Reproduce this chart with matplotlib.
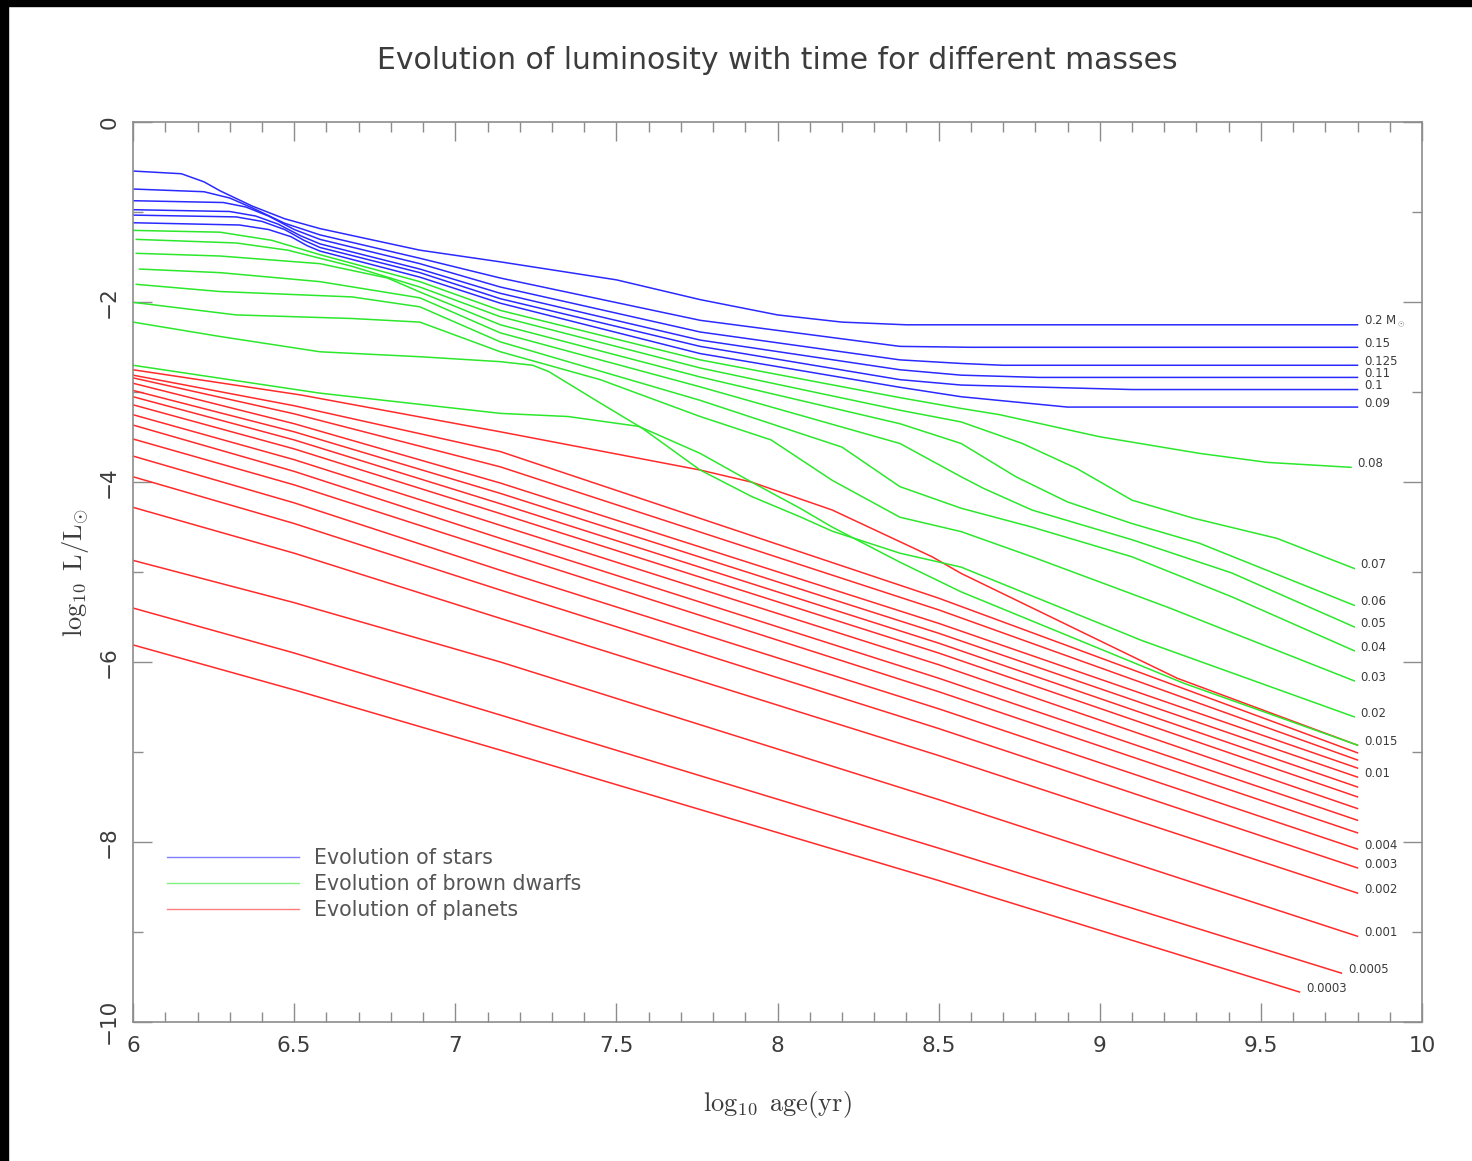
import numpy as np
import matplotlib.pyplot as plt
from matplotlib.patches import Rectangle
from matplotlib.ticker import MultipleLocator
from matplotlib.lines import Line2D

plt.rcParams['mathtext.fontset'] = 'cm'

# ---- data: log10 age (yr) vs log10 L/Lsun ----
# stars (blue)
star_masses = ['0.2 M$_\\odot$', '0.15', '0.125', '0.11', '0.1', '0.09']
star_age = [
    [6.0, 6.15, 6.22, 6.27, 6.37, 6.47, 6.58, 6.89, 7.14, 7.5, 7.76, 8.0, 8.2, 8.4, 8.57, 9.8],
    [6.0, 6.22, 6.3, 6.37, 6.47, 6.58, 6.89, 7.14, 7.76, 8.38, 8.6, 9.8],
    [6.0, 6.28, 6.35, 6.42, 6.5, 6.58, 6.89, 7.14, 7.76, 8.38, 8.57, 8.7, 9.8],
    [6.0, 6.3, 6.38, 6.45, 6.52, 6.58, 6.89, 7.14, 7.76, 8.38, 8.57, 8.81, 9.8],
    [6.0, 6.32, 6.4, 6.47, 6.53, 6.58, 6.89, 7.14, 7.76, 8.38, 8.57, 9.1, 9.8],
    [6.0, 6.33, 6.42, 6.49, 6.54, 6.58, 6.89, 7.14, 7.76, 8.38, 8.57, 8.9, 9.8],
]
star_lum = [
    [-0.54, -0.57, -0.66, -0.76, -0.93, -1.07, -1.18, -1.42, -1.55, -1.75, -1.97, -2.14, -2.22, -2.25, -2.25, -2.25],
    [-0.74, -0.77, -0.84, -0.95, -1.12, -1.25, -1.51, -1.73, -2.20, -2.49, -2.50, -2.50],
    [-0.87, -0.89, -0.94, -1.04, -1.19, -1.30, -1.57, -1.83, -2.33, -2.64, -2.68, -2.70, -2.70],
    [-0.97, -0.99, -1.04, -1.13, -1.26, -1.35, -1.63, -1.90, -2.42, -2.75, -2.81, -2.835, -2.835],
    [-1.03, -1.05, -1.10, -1.19, -1.31, -1.39, -1.67, -1.96, -2.49, -2.86, -2.92, -2.97, -2.97],
    [-1.115, -1.14, -1.19, -1.27, -1.37, -1.43, -1.72, -2.01, -2.57, -2.945, -3.05, -3.165, -3.165],
]

# brown dwarfs (green)
bd_masses = ['0.08', '0.07', '0.06', '0.05', '0.04', '0.03', '0.02', '0.015']
bd_age = [
    [6.0, 6.27, 6.43, 6.58, 6.89, 7.14, 7.76, 8.38, 8.57, 8.69, 9.0, 9.31, 9.52, 9.78],
    [6.01, 6.32, 6.48, 6.68, 6.89, 7.14, 7.76, 8.38, 8.57, 8.76, 8.93, 9.10, 9.29, 9.55, 9.79],
    [6.01, 6.27, 6.58, 6.79, 6.89, 7.14, 7.76, 8.38, 8.57, 8.74, 8.90, 9.10, 9.31, 9.79],
    [6.02, 6.27, 6.58, 6.89, 7.14, 7.76, 8.38, 8.57, 8.64, 8.79, 9.10, 9.41, 9.79],
    [6.01, 6.27, 6.68, 6.89, 7.14, 7.76, 8.20, 8.38, 8.57, 8.79, 9.10, 9.41, 9.79],
    [6.0, 6.32, 6.68, 6.89, 7.14, 7.45, 7.76, 7.98, 8.17, 8.38, 8.57, 8.79, 9.21, 9.79],
    [6.0, 6.27, 6.58, 6.89, 7.14, 7.24, 7.29, 7.45, 7.58, 7.76, 7.92, 8.07, 8.17, 8.38, 8.57, 9.13, 9.79],
    [6.0, 6.58, 7.14, 7.35, 7.57, 7.76, 7.92, 8.07, 8.17, 8.38, 8.57, 9.26, 9.80],
]
bd_lum = [
    [-1.20, -1.22, -1.31, -1.47, -1.77, -2.09, -2.64, -3.06, -3.18, -3.25, -3.495, -3.68, -3.78, -3.835],
    [-1.30, -1.34, -1.42, -1.60, -1.83, -2.16, -2.73, -3.20, -3.33, -3.57, -3.85, -4.20, -4.40, -4.625, -4.96],
    [-1.455, -1.485, -1.57, -1.73, -1.885, -2.25, -2.83, -3.35, -3.57, -3.94, -4.22, -4.46, -4.68, -5.37],
    [-1.63, -1.67, -1.77, -1.95, -2.34, -2.94, -3.57, -3.94, -4.07, -4.31, -4.64, -5.01, -5.61],
    [-1.80, -1.88, -1.94, -2.05, -2.44, -3.09, -3.61, -4.05, -4.29, -4.50, -4.83, -5.275, -5.875],
    [-2.00, -2.14, -2.18, -2.22, -2.55, -2.86, -3.27, -3.53, -3.98, -4.39, -4.55, -4.83, -5.39, -6.21],
    [-2.22, -2.38, -2.55, -2.605, -2.66, -2.70, -2.77, -3.12, -3.40, -3.865, -4.16, -4.385, -4.545, -4.79, -4.945, -5.76, -6.61],
    [-2.70, -3.01, -3.235, -3.27, -3.38, -3.68, -4.00, -4.29, -4.50, -4.89, -5.22, -6.235, -6.925],
]

# planets (red)
pl_masses = ['', '', '', '', '0.01', '', '', '', '', '', '0.004', '0.003', '0.002', '0.001', '0.0005', '0.0003']
pl_age = [
    [6.0, 6.52, 7.14, 7.76, 7.92, 8.17, 8.48, 8.57, 9.24, 9.80],
] + [[6.0, 6.5, 7.14, 8.5, 9.8]] * 13 + [
    [6.0, 6.5, 7.14, 8.5, 9.75],
    [6.0, 6.5, 7.14, 8.5, 9.62],
]
pl_lum = [
    [-2.75, -3.03, -3.44, -3.865, -4.00, -4.31, -4.83, -5.015, -6.18, -6.925],
    [-2.81, -3.15, -3.66, -5.29, -7.01],
    [-2.84, -3.24, -3.83, -5.42, -7.09],
    [-2.90, -3.35, -4.01, -5.57, -7.18],
    [-2.98, -3.44, -4.125, -5.68, -7.28],
    [-3.05, -3.53, -4.24, -5.79, -7.39],
    [-3.14, -3.63, -4.35, -5.90, -7.50],
    [-3.25, -3.75, -4.48, -6.03, -7.63],
    [-3.365, -3.88, -4.625, -6.18, -7.76],
    [-3.52, -4.03, -4.77, -6.33, -7.90],
    [-3.71, -4.23, -4.98, -6.52, -8.08],
    [-3.94, -4.46, -5.20, -6.74, -8.29],
    [-4.28, -4.79, -5.515, -7.04, -8.57],
    [-4.87, -5.34, -6.00, -7.53, -9.05],
    [-5.40, -5.90, -6.59, -8.07, -9.46],
    [-5.81, -6.31, -6.98, -8.43, -9.67],
]

blue, green, red = '#2a2aff', '#2be82b', '#ff2a2a'
txt = '#3c3c3c'
axc = '#8c8c8c'

fig = plt.figure(figsize=(14.72, 11.61), dpi=100)
ax = fig.add_axes([0.0904, 0.1200, 0.8756, 0.7745])

groups = [(pl_age, pl_lum, pl_masses, red),
          (bd_age, bd_lum, bd_masses, green),
          (star_age, star_lum, star_masses, blue)]
for ages, lums, names, col in groups:
    for a, l, name in zip(ages, lums, names):
        ax.plot(a, l, color=col, lw=1.1, solid_joinstyle='round')
        if name:
            ax.text(a[-1] + 0.02, l[-1] + 0.04, name, fontsize=8.5, color=txt,
                    ha='left', va='center')

ax.set_xlim(6, 10)
ax.set_ylim(-10, 0)
ax.xaxis.set_major_locator(MultipleLocator(0.5))
ax.xaxis.set_minor_locator(MultipleLocator(0.1))
ax.yaxis.set_major_locator(MultipleLocator(2))
ax.yaxis.set_minor_locator(MultipleLocator(1))
ax.xaxis.set_major_formatter(plt.FuncFormatter(lambda v, p: '%g' % v))
ax.yaxis.set_major_formatter(plt.FuncFormatter(lambda v, p: ('%g' % v).replace('-', '\u2212')))
ax.tick_params(which='both', direction='in', top=True, right=True, color=axc, width=1)
ax.tick_params(which='major', length=14)
ax.tick_params(which='minor', length=7)
ax.tick_params(axis='x', labelsize=15.5, labelcolor=txt, pad=10)
ax.tick_params(axis='y', labelsize=15.5, labelcolor=txt, pad=10)
for lab in ax.get_yticklabels():
    lab.set_rotation(90)
    lab.set_va('center')
for s in ax.spines.values():
    s.set_color(axc)
    s.set_linewidth(1.2)

ax.set_xlabel(r'$\log_{10}\ \mathrm{age(yr)}$', fontsize=19, color=txt, labelpad=24)
ax.set_ylabel(r'$\log_{10}\ \mathrm{L/L_{\odot}}$', fontsize=19, color=txt, labelpad=6)
fig.text(0.528, 0.948, 'Evolution of luminosity with time for different masses',
         ha='center', va='center', fontsize=21.5, color=txt)

handles = [Line2D([], [], color=c, lw=1.0, alpha=0.6) for c in (blue, green, red)]
leg = ax.legend(handles, ['Evolution of stars', 'Evolution of brown dwarfs', 'Evolution of planets'],
                loc='lower left', bbox_to_anchor=(0.012, 0.092), frameon=False,
                handlelength=6.4, handletextpad=0.75, labelspacing=0.3, fontsize=14.8)
for t in leg.get_texts():
    t.set_color('#555555')

# black frame strip along top and left edge of the original image
fig.patches.append(Rectangle((0, 0), 8 / 1472, 1, transform=fig.transFigure, color='black'))
fig.patches.append(Rectangle((0, 1 - 6 / 1161), 1, 6 / 1161, transform=fig.transFigure, color='black'))

fig.savefig('out.png', dpi=100)
